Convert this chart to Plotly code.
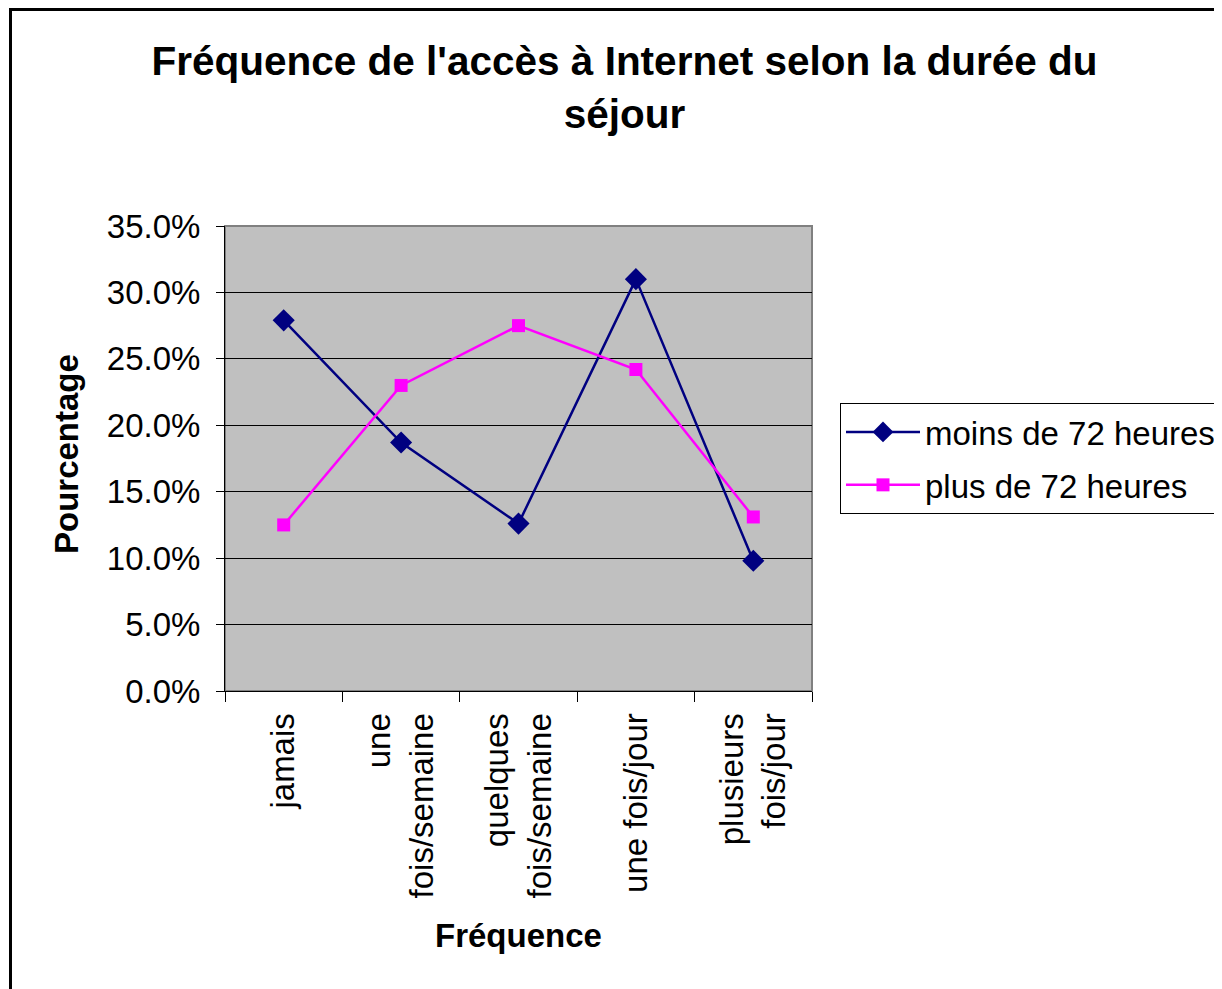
import plotly.graph_objects as go

categories = ["jamais", "une<br>fois/semaine", "quelques<br>fois/semaine", "une fois/jour", "plusieurs<br>fois/jour"]
moins_72 = [0.279, 0.187, 0.126, 0.310, 0.098]
plus_72 = [0.125, 0.230, 0.275, 0.242, 0.131]
series_names = ["moins de 72 heures", "plus de 72 heures"]

OFF = 8  # default page body margin
W, H = 1222 - OFF, 989 - OFF
# plot-area edges in figure pixels
L, R, T, B = 225 - OFF, 812 - OFF, 226 - OFF, 691 - OFF

FONT = "Liberation Sans, Arial, sans-serif"

fig = go.Figure()
fig.add_trace(go.Scatter(
    x=categories, y=moins_72, name=series_names[0], mode="lines+markers",
    legendgroup="a",
    line=dict(color="#000080", width=2.5),
    marker=dict(symbol="diamond", size=17, color="#000080"),
))
fig.add_trace(go.Scatter(
    x=categories, y=plus_72, name=series_names[1], mode="lines+markers",
    legendgroup="b",
    line=dict(color="#FF00FF", width=2.5),
    marker=dict(symbol="square", size=13, color="#FF00FF"),
))

def px(xp):
    return (xp - OFF - L) / (R - L)

def py(yp):
    return (B - (yp - OFF)) / (B - T)

fig.update_layout(
    width=W, height=H,
    margin=dict(l=L, r=W - R, t=T, b=H - B, pad=0, autoexpand=False),
    paper_bgcolor="white",
    plot_bgcolor="#C0C0C0",
    font=dict(family=FONT, size=33, color="black"),
    title=dict(
        text="<b>Fréquence de l'accès à Internet selon la durée du<br>séjour</b>",
        x=(624.5 - OFF) / W, xref="container", xanchor="center",
        y=1 - 67 / H, yref="container", yanchor="middle",
        font=dict(size=40.5, family=FONT, color="black"),
    ),
    showlegend=True,
    legend=dict(
        x=px(840), xanchor="left", y=py(403), yanchor="top",
        bordercolor="black", borderwidth=1, bgcolor="white",
        font=dict(size=33, family=FONT),
        traceorder="grouped", tracegroupgap=7,
        itemwidth=74,
    ),
    xaxis=dict(
        type="category",
        tickson="boundaries",
        ticks="outside", ticklen=10, tickcolor="black", tickwidth=1,
        tickangle=-90,
        ticklabelstandoff=8,
        showline=True, linecolor="black", linewidth=1,
        showgrid=False,
        tickfont=dict(size=33, family=FONT),
        range=[-0.5, 4.5],
    ),
    yaxis=dict(
        range=[0, 0.35], dtick=0.05, tickformat=".1%",
        ticks="outside", ticklen=8, tickcolor="black", tickwidth=1,
        ticklabelstandoff=9,
        showline=True, linecolor="black", linewidth=1,
        showgrid=True, gridcolor="black", gridwidth=1,
        zeroline=False,
        tickfont=dict(size=33, family=FONT),
    ),
)

# axis titles
fig.add_annotation(text="<b>Fréquence</b>", xref="paper", yref="paper",
                   x=px(518), y=py(935), showarrow=False,
                   xanchor="center", yanchor="middle",
                   font=dict(size=33, family=FONT, color="black"))
fig.add_annotation(text="<b>Pourcentage</b>", xref="paper", yref="paper",
                   x=px(66), y=py(454), showarrow=False, textangle=-90,
                   xanchor="center", yanchor="middle",
                   font=dict(size=33, family=FONT, color="black"))

# plot-area border (gray) and outer chart frame (black)
fig.add_shape(type="rect", xref="paper", yref="paper", x0=0, x1=1, y0=0, y1=1,
              line=dict(color="#808080", width=2), layer="below")
fig.add_shape(type="rect", xref="paper", yref="paper",
              x0=px(10.5), x1=px(1260), y0=py(1020), y1=py(OFF + 1.5),
              line=dict(color="black", width=3))

fig.write_html("out.html")
